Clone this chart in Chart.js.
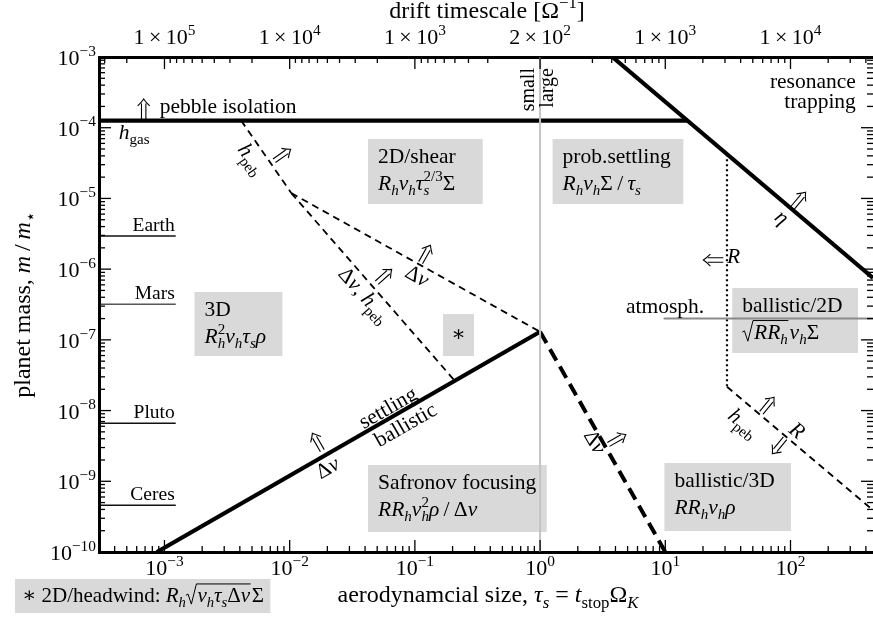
<!DOCTYPE html>
<html>
<head>
<meta charset="utf-8">
<script src="https://cdn.jsdelivr.net/npm/chart.js@4.4.1/dist/chart.umd.min.js"></script>
<style>
  html, body { margin: 0; padding: 0; background: #fff; }
  canvas { display: block; }
</style>
</head>
<body>
<canvas id="regimes" width="873" height="618"></canvas>
<script>
// pebble accretion regimes: aerodynamic size tau_s (x) vs planet mass m/m_star (y)
const tauTicks = [1e-3, 1e-2, 1e-1, 1, 10, 100];
const tauTickLabels = ['10^{−3}', '10^{−2}', '10^{−1}', '10^0', '10^1', '10^2'];
const driftTickLabels = ['1\u2009×\u200910^5', '1\u2009×\u200910^4', '1\u2009×\u200910^3', '2\u2009×\u200910^2', '1\u2009×\u200910^3', '1\u2009×\u200910^4'];
const massTicks = [1e-10, 1e-9, 1e-8, 1e-7, 1e-6, 1e-5, 1e-4, 1e-3];
const massTickLabels = ['10^{−10}', '10^{−9}', '10^{−8}', '10^{−7}', '10^{−6}', '10^{−5}', '10^{−4}', '10^{−3}'];

const bodyNames = ['Earth', 'Mars', 'Pluto', 'Ceres'];
const bodyMasses = [2.94e-6, 3.2e-7, 6.6e-9, 4.6e-10];
const bodyTauRange = [3.1e-4, 1.23e-3];

// regime boundaries, [tau_s, m/m_star]
const pebbleIsolation = [[3.1e-4, 1.26e-4], [15.0, 1.26e-4]];
const etaLimit = [[3.78, 1e-3], [456, 7.5e-7]];
const settlingLimit = [[8.7e-4, 1e-10], [1, 1.3e-7]];
const dvLimitLarge = [[1, 1.3e-7], [10, 1e-10]];
const hpebUpper = [[4.1e-3, 1.26e-4], [1.03e-2, 1.19e-5]];
const dvShear = [[1.03e-2, 1.19e-5], [1, 1.3e-7]];
const dvHpeb = [[1.03e-2, 1.19e-5], [0.206, 2.7e-8]];
const radiusLimit = [[31.1, 4.2e-5], [31.1, 2.17e-8]];
const hpebLower = [[31.1, 2.17e-8], [456, 3.9e-10]];
const atmosphere = [[9.7, 2.0e-7], [456, 2.0e-7]];
const smallLarge = [[1, 1e-10], [1, 1e-3]];

const TAU_MIN = 3.1e-4, TAU_MAX = 456, M_MIN = 1e-10, M_MAX = 1e-3;
const FONT = '"Liberation Serif", "DejaVu Serif", serif';

// annotation layout, positions in log10 data coordinates
const boxes = [
  { lt: [-1.374, -0.458], lm: [-4.160, -5.079], lines: ['2D/shear', '$R_hv_hτ_s^{2/3}Σ$'] },
  { lt: [0.100, 1.144], lm: [-4.160, -5.079], lines: ['prob.settling', '$R_hv_hΣ\u2009/\u2009τ_s$'] },
  { lt: [-2.760, -2.058], lm: [-6.323, -7.229], lines: ['3D', '$R_h^2v_hτ_sρ$'] },
  { lt: [-0.775, -0.528], lm: [-6.635, -7.229], star: true },
  { lt: [1.535, 2.539], lm: [-6.267, -7.186], lines: ['ballistic/2D', '$\\s{RR_h}v_hΣ$'] },
  { lt: [-1.374, 0.053], lm: [-8.770, -9.718], lines: ['Safronov focusing', '$RR_hv_h^2ρ\u2009/\u2009Δv$'] },
  { lt: [0.993, 2.004], lm: [-8.742, -9.703], lines: ['ballistic/3D', '$RR_hv_hρ$'] },
  { lt: [-4.194, -2.154], lm: [-10.382, -10.863], lines: ['∗ 2D/headwind: $R_h\\s{v_hτ_sΔv}Σ$'], pad: 7, first: 23, size: 21 }
];
const labels = [
  ['pebble isolation', -3.038, -3.792, {}],
  ['$h_{!gas}$', -3.365, -4.160, {}],
  ['resonance', 2.522, -3.438, { align: 'right' }],
  ['trapping', 2.522, -3.721, { align: 'right' }],
  ['atmosph.', 1.311, -6.620, { align: 'right' }],
  ['$R$', 1.493, -5.913, {}],
  ['small', -0.050, -3.156, { align: 'right', rot: -90, size: 20 }],
  ['large', 0.101, -3.156, { align: 'right', rot: -90, size: 20 }],
  ['$h_{!peb}$', -2.305, -4.443, { align: 'center', middle: true, rot: 55 }],
  ['$Δv, h_{!peb}$', -1.405, -6.366, { align: 'center', middle: true, rot: 48.4 }],
  ['$Δv$', -0.982, -6.097, { align: 'center', middle: true, rot: 29.4 }],
  ['settling', -1.214, -7.964, { align: 'center', middle: true, rot: -29.8 }],
  ['ballistic', -1.075, -8.204, { align: 'center', middle: true, rot: -29.8 }],
  ['$Δv$', -1.696, -8.813, { align: 'center', middle: true, rot: -29.8 }],
  ['$Δv$', 0.436, -8.445, { align: 'center', middle: true, rot: 60.2 }],
  ['$η$', 1.930, -5.270, { align: 'center', middle: true, rot: 40 }],
  ['$h_{!peb}$', 1.623, -8.176, { align: 'center', middle: true, rot: 39.5 }],
  ['$R$', 2.051, -8.286, { align: 'center', middle: true, rot: 39.5 }]
];
const arrows = [
  [-3.166, -3.735, -90],
  [-2.058, -4.386, -35],
  [-1.245, -6.097, -41.6],
  [-0.915, -5.786, -60.6],
  [-1.779, -8.445, -119.8],
  [0.615, -8.409, -29.8],
  [2.069, -5.022, -50],
  [1.384, -5.871, 180],
  [1.818, -7.921, -50.5],
  [1.906, -8.501, 129.5]
];

// --- tiny TeX-like text: $..$ math italics, _x / ^{..} sub/sup, {!..} upright, \s{..} sqrt
function parseRich(src) {
  const items = [];
  let math = false;
  for (let i = 0; i < src.length; i++) {
    const c = src[i];
    if (c === '$') { math = !math; continue; }
    if (c === '\\' && src[i + 1] === 's') {
      const j = src.indexOf('}', i);
      const inner = src.slice(i + 3, j);
      items.push({ sqrt: 'open' });
      items.push(...parseRich(math ? '$' + inner + '$' : inner));
      items.push({ sqrt: 'close' });
      i = j;
      continue;
    }
    if (c === '_' || c === '^') {
      let g;
      if (src[i + 1] === '{') { const j = src.indexOf('}', i); g = src.slice(i + 2, j); i = j; }
      else { g = src[i + 1]; i++; }
      let up = false;
      if (g[0] === '!') { up = true; g = g.slice(1); }
      const lvl = c === '_' ? -1 : 1;
      const prev = items[items.length - 1];
      items.push({ t: g, it: math && !up && /[A-Za-zα-ω]/.test(g), lvl, stack: !!(prev && prev.lvl && prev.lvl !== lvl) });
      continue;
    }
    const it = math && /[A-Za-zα-ω]/.test(c);
    const prev = items[items.length - 1];
    if (prev && prev.t !== undefined && prev.lvl === 0 && prev.it === it) prev.t += c;
    else items.push({ t: c, it, lvl: 0 });
  }
  return items;
}

function layoutRich(ctx, items, fs) {
  let x = 0, gStart = 0, gEnd = 0;
  const ops = [], open = [];
  for (const it of items) {
    if (it.sqrt === 'open') { ops.push({ rad: x }); open.push(ops.length - 1); x += 0.55 * fs; continue; }
    if (it.sqrt === 'close') { ops[open.pop()].end = x + 0.02 * fs; x += 0.08 * fs; continue; }
    const size = it.lvl ? fs * 0.7 : fs;
    const font = (it.it ? 'italic ' : '') + size + 'px ' + FONT;
    ctx.font = font;
    const w = ctx.measureText(it.t).width;
    const x0 = it.stack ? gStart : x;
    const dy = it.lvl === 1 ? -0.42 * fs : it.lvl === -1 ? 0.24 * fs : 0;
    ops.push({ t: it.t, font, x: x0, dy });
    if (it.lvl && it.stack) x = Math.max(gEnd, x0 + w);
    else if (it.lvl) { gStart = x0; gEnd = x0 + w; x = gEnd; }
    else x = x0 + w;
  }
  return { width: x, ops };
}

function richText(ctx, src, x, y, o = {}) {
  const fs = o.size || 21.5;
  const L = layoutRich(ctx, parseRich(src), fs);
  ctx.save();
  ctx.translate(x, y);
  if (o.rot) ctx.rotate(o.rot * Math.PI / 180);
  const ox = o.align === 'center' ? -L.width / 2 : o.align === 'right' ? -L.width : 0;
  const oy = o.middle ? 0.3 * fs : 0;
  ctx.fillStyle = '#000';
  ctx.strokeStyle = '#000';
  ctx.textAlign = 'left';
  ctx.textBaseline = 'alphabetic';
  for (const op of L.ops) {
    if (op.rad !== undefined) {
      const r = ox + op.rad, top = oy - 0.86 * fs;
      ctx.lineWidth = 1;
      ctx.beginPath();
      ctx.moveTo(r, oy - 0.32 * fs);
      ctx.lineTo(r + 0.1 * fs, oy - 0.38 * fs);
      ctx.lineTo(r + 0.26 * fs, oy + 0.1 * fs);
      ctx.lineTo(r + 0.5 * fs, top);
      ctx.lineTo(ox + op.end, top);
      ctx.stroke();
      continue;
    }
    ctx.font = op.font;
    ctx.fillText(op.t, ox + op.x, oy + op.dy);
  }
  ctx.restore();
}

function dblArrow(ctx, x, y, deg, len = 20) {
  ctx.save();
  ctx.translate(x, y);
  ctx.rotate(deg * Math.PI / 180);
  ctx.strokeStyle = '#000';
  ctx.lineWidth = 1.1;
  const h = len / 2;
  ctx.beginPath();
  ctx.moveTo(-h, -2.2); ctx.lineTo(h - 4.5, -2.2);
  ctx.moveTo(-h, 2.2); ctx.lineTo(h - 4.5, 2.2);
  ctx.moveTo(h - 7, -6); ctx.quadraticCurveTo(h - 3, -2, h, 0);
  ctx.quadraticCurveTo(h - 3, 2, h - 7, 6);
  ctx.stroke();
  ctx.restore();
}

// drift time ~ (1 + tau^2) / tau, top axis minor ticks
function driftMinorTaus() {
  const out = [];
  for (let k = 2; k <= 5; k++) for (let m = 2; m <= 9; m++) {
    const u = m * 10 ** k / 100;
    if (u <= 2) continue;
    const r = Math.sqrt(u * u - 4);
    for (const tau of [(u - r) / 2, (u + r) / 2]) if (tau >= TAU_MIN && tau <= TAU_MAX) out.push(tau);
  }
  return out;
}

const regimePlugin = {
  id: 'regimes',
  beforeDatasetsDraw(chart) {
    const { ctx, scales: { x, y } } = chart;
    ctx.save();
    ctx.fillStyle = '#d9d9d9';
    for (const b of boxes) {
      const x0 = x.getPixelForValue(10 ** b.lt[0]), x1 = x.getPixelForValue(10 ** b.lt[1]);
      const y0 = y.getPixelForValue(10 ** b.lm[0]), y1 = y.getPixelForValue(10 ** b.lm[1]);
      ctx.fillRect(x0, y0, x1 - x0, y1 - y0);
    }
    ctx.restore();
  },
  afterDatasetsDraw(chart) {
    const { ctx, chartArea: a, scales: { x, x2, y } } = chart;
    const px = v => x.getPixelForValue(v), py = v => y.getPixelForValue(v);
    ctx.save();
    ctx.strokeStyle = '#000';
    ctx.lineWidth = 1.3;
    const tick = (x0, y0, x1, y1) => { ctx.beginPath(); ctx.moveTo(x0, y0); ctx.lineTo(x1, y1); ctx.stroke(); };
    for (let d = -4; d <= 2; d++) for (let m = 1; m <= 9; m++) {
      const v = m * 10 ** d;
      if (v < TAU_MIN || v > TAU_MAX) continue;
      tick(px(v), a.bottom, px(v), a.bottom - (m === 1 ? 12 : 6));
    }
    for (let d = -10; d <= -4; d++) for (let m = 1; m <= 9; m++) {
      const p = py(m * 10 ** d), len = m === 1 ? 12 : 6;
      tick(a.left, p, a.left + len, p);
      tick(a.right, p, a.right - len, p);
    }
    tauTicks.forEach(v => { const p = x2.getPixelForValue(v); tick(p, a.top, p, a.top + 12); });
    driftMinorTaus().forEach(v => { const p = x2.getPixelForValue(v); tick(p, a.top, p, a.top + 6); });

    // tick labels and axis titles
    tauTicks.forEach((v, i) => richText(ctx, tauTickLabels[i], px(v), a.bottom + 23, { align: 'center', size: 22 }));
    tauTicks.forEach((v, i) => richText(ctx, driftTickLabels[i], x2.getPixelForValue(v), a.top - 13, { align: 'center', size: 22 }));
    massTicks.forEach((v, i) => richText(ctx, massTickLabels[i], a.left - 3, py(v) + 8, { align: 'right', size: 22 }));
    const cx = (a.left + a.right) / 2;
    richText(ctx, 'aerodynamcial size, $τ_s = t_{!stop}Ω_K$', cx + 2, a.bottom + 50, { align: 'center', size: 24 });
    richText(ctx, 'drift timescale [Ω^{−1}]', cx + 1, a.top - 39, { align: 'center', size: 24 });
    richText(ctx, 'planet mass, $m\u2009/\u2009m_⋆$', 30, (a.top + a.bottom) / 2, { align: 'center', rot: -90, size: 24 });

    // bodies
    bodyNames.forEach((n, i) => richText(ctx, n, px(bodyTauRange[1]) - 1, py(bodyMasses[i]) - 5, { align: 'right', size: 19.5 }));

    // box texts
    for (const b of boxes) {
      const x0 = px(10 ** b.lt[0]), x1 = px(10 ** b.lt[1]);
      const y0 = py(10 ** b.lm[0]), y1 = py(10 ** b.lm[1]);
      if (b.star) { richText(ctx, '∗', (x0 + x1) / 2, (y0 + y1) / 2, { align: 'center', middle: true }); continue; }
      b.lines.forEach((t, i) => richText(ctx, t, x0 + (b.pad || 10), y0 + (b.first || 24) + 27 * i, { size: b.size }));
    }
    for (const [t, lt, lm, o] of labels) richText(ctx, t, px(10 ** lt), py(10 ** lm), o);
    for (const [lt, lm, deg] of arrows) dblArrow(ctx, px(10 ** lt), py(10 ** lm), deg);
    ctx.restore();
  }
};

const pts = arr => arr.map(([x, y]) => ({ x, y }));
const line = (arr, color, width, dash) => ({
  data: pts(arr), borderColor: color, borderWidth: width, borderDash: dash || [],
  pointRadius: 0, fill: false, tension: 0, borderCapStyle: 'butt'
});

const axis = (pos, min, max, size) => ({
  type: 'logarithmic', position: pos, min, max,
  ticks: { display: false },
  grid: { display: false, drawTicks: false },
  border: { display: size > 0, color: '#000', width: 3 },
  afterFit(s) { if (s.isHorizontal()) s.height = size; else s.width = size; }
});

new Chart(document.getElementById('regimes'), {
  type: 'line',
  data: {
    datasets: [
      line(smallLarge, '#c4c4c4', 2),
      line(atmosphere, '#8a8a8a', 2),
      ...bodyMasses.map((m, i) => line([[bodyTauRange[0], m], [bodyTauRange[1], m]], i === 1 ? '#555' : '#111', 1.5)),
      line(hpebUpper, '#000', 1.8, [7, 5]),
      line(dvShear, '#000', 1.8, [7, 5]),
      line(dvHpeb, '#000', 1.8, [7, 5]),
      line(hpebLower, '#000', 1.8, [7, 5]),
      line(radiusLimit, '#000', 2.2, [2, 3]),
      line(dvLimitLarge, '#000', 4, [13, 7]),
      line(pebbleIsolation, '#000', 4.2),
      line(etaLimit, '#000', 4.2),
      line(settlingLimit, '#000', 4.2)
    ]
  },
  options: {
    responsive: false,
    animation: false,
    devicePixelRatio: 1,
    layout: { padding: 0 },
    plugins: { legend: { display: false }, tooltip: { enabled: false } },
    scales: {
      x: axis('bottom', TAU_MIN, TAU_MAX, 66),
      x2: axis('top', TAU_MIN, TAU_MAX, 57),
      y: axis('left', M_MIN, M_MAX, 99),
      y2: axis('right', M_MIN, M_MAX, 0)
    }
  },
  plugins: [regimePlugin]
});
</script>
</body>
</html>
